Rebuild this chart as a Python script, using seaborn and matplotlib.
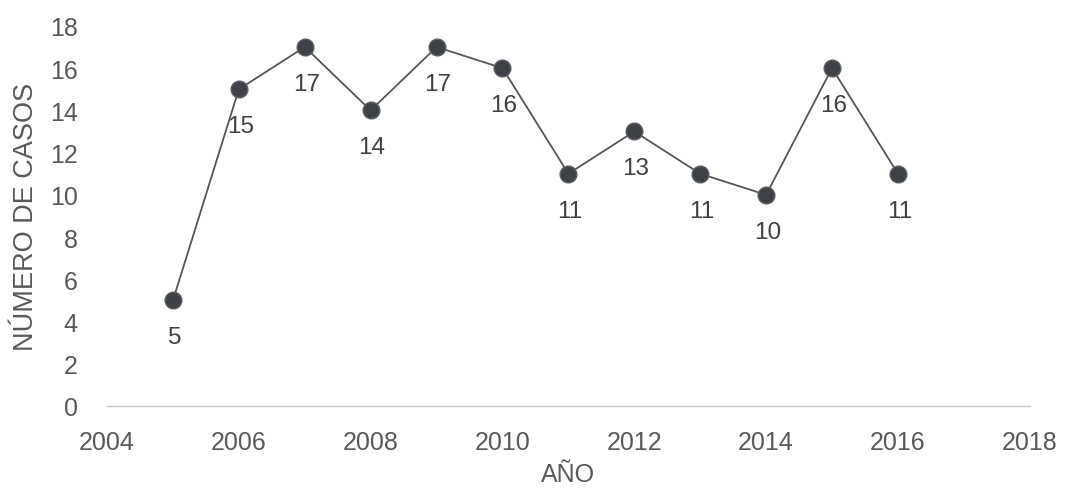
import matplotlib
matplotlib.use("Agg")
import matplotlib.pyplot as plt
import seaborn as sns
import pandas as pd

years = [2005, 2006, 2007, 2008, 2009, 2010, 2011, 2012, 2013, 2014, 2015, 2016]
cases = [5, 15, 17, 14, 17, 16, 11, 13, 11, 10, 16, 11]
x_ticks = [2004, 2006, 2008, 2010, 2012, 2014, 2016, 2018]
y_ticks = [0, 2, 4, 6, 8, 10, 12, 14, 16, 18]

sns.set_theme(style="white")
plt.rcParams['font.family'] = ['Liberation Sans', 'DejaVu Sans']

df = pd.DataFrame({"AÑO": years, "CASOS": cases})

fig = plt.figure(figsize=(10.66, 4.89), dpi=100)
ax = fig.add_axes([0.1004, 0.1677, 0.8656, 0.7773])

sns.lineplot(data=df, x="AÑO", y="CASOS", ax=ax, color="#555555", linewidth=1.3,
             marker="o", markersize=12, markerfacecolor="#3e4146",
             markeredgecolor="#5a5d62", markeredgewidth=1.0)

for x, y in zip(years, cases):
    ax.annotate(str(y), (x, y), textcoords="offset points", xytext=(1, -26.5),
                ha="center", va="center", fontsize=17.5, color="#404040")

ax.set_xlim(2004, 2018)
ax.set_ylim(0, 18)
ax.set_xticks(x_ticks)
ax.set_yticks(y_ticks)
ax.tick_params(axis="both", labelsize=18, labelcolor="#595959", length=0)
ax.tick_params(axis="x", pad=17)
ax.tick_params(axis="y", pad=21)

for s in ["top", "right", "left"]:
    ax.spines[s].set_visible(False)
ax.spines["bottom"].set_color("#c8c8c8")
ax.spines["bottom"].set_linewidth(1.0)

ax.set_xlabel("AÑO", fontsize=18, color="#595959", labelpad=6)
ax.set_ylabel("NÚMERO DE CASOS", fontsize=19.5, color="#595959", labelpad=8)

fig.savefig("out.png", dpi=100, facecolor="white")
